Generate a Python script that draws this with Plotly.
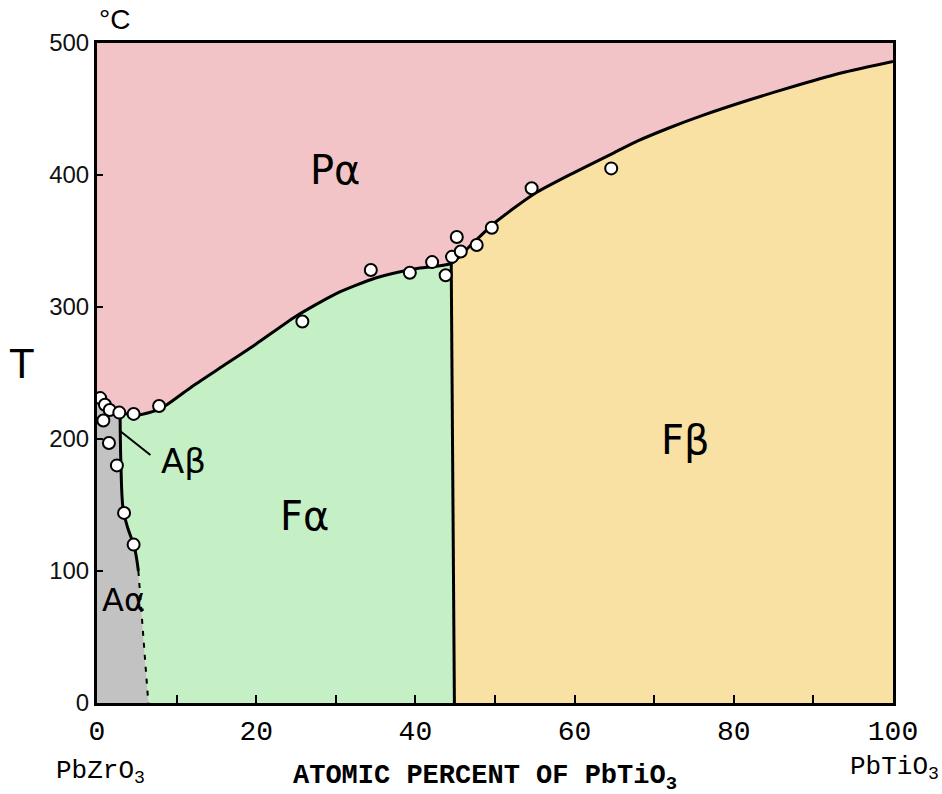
import plotly.graph_objects as go

# ---- data (x: atomic % PbTiO3, T in °C) ----
# Curie boundary (paraelectric Pα above)
curie_x = [0, 1, 2, 3, 5, 8, 12, 16, 20, 25, 30, 35, 40, 44.5, 47, 50, 55, 60, 65, 68, 72, 76, 82, 88, 94, 100]
curie_t = [234, 228, 223, 220, 218, 223, 240, 256, 272, 293, 310, 322, 329, 333, 347, 364, 386, 402, 417, 426, 436, 445, 457, 468, 478, 486]

# Morphotropic boundary Fα / Fβ
mpb_x = [44.5, 44.9]
mpb_t = [333, 0]

# Antiferroelectric / ferroelectric boundary: solid part, dashed part
afe_x = [2.9, 3.0, 3.3, 3.9, 4.7, 5.2]
afe_t = [220, 182, 146, 132, 118, 100]
afe_dash_x = [5.2, 5.6, 6.0, 6.45]
afe_dash_t = [100, 68, 34, 0]

# Measured points
pts_x = [0.4, 1.0, 1.6, 2.8, 4.6, 7.8, 0.8, 1.5, 2.5, 3.4, 4.6, 25.8, 34.4, 39.3, 42.1,
         43.8, 44.6, 45.2, 45.7, 47.7, 49.6, 54.6, 64.6]
pts_t = [231, 226, 222, 220, 219, 225, 214, 197, 180, 144, 120, 289, 328, 326, 334,
         324, 338, 353, 342, 347, 360, 390, 405]

# Phase labels
phase_labels = ["Pα", "Fβ", "Fα", "Aβ", "Aα"]
phase_x = [29.9, 73.9, 26.1, 10.9, 3.3]
phase_t = [404, 199, 142, 183, 78]

x_ticks = [0, 20, 40, 60, 80, 100]
y_ticks = [0, 100, 200, 300, 400, 500]

PINK = "#F3C4C7"
GREEN = "#C5F0C6"
ORANGE = "#F9E0A3"
GRAY = "#C2C2C2"

afe_all_x = afe_x + afe_dash_x[1:]
afe_all_t = afe_t + afe_dash_t[1:]

fig = go.Figure()

# Gray antiferroelectric region
gx = [0] + [x for x in curie_x if x < afe_x[0]] + afe_all_x + [0]
gt = [0] + [t for x, t in zip(curie_x, curie_t) if x < afe_x[0]] + afe_all_t + [0]
fig.add_trace(go.Scatter(x=gx, y=gt, fill="toself", fillcolor=GRAY, mode="none",
                         hoverinfo="skip", showlegend=False))

# Green Fα region
fx = [afe_x[0]] + [x for x in curie_x if afe_x[0] < x < mpb_x[0]] + mpb_x + afe_all_x[::-1]
ft = [afe_t[0]] + [t for x, t in zip(curie_x, curie_t) if afe_x[0] < x < mpb_x[0]] + mpb_t + afe_all_t[::-1]
fig.add_trace(go.Scatter(x=fx, y=ft, fill="toself", fillcolor=GREEN, mode="none",
                         hoverinfo="skip", showlegend=False))

# Orange Fβ region
ox = mpb_x[::-1] + [x for x in curie_x if x > mpb_x[0]] + [100]
ot = mpb_t[::-1] + [t for x, t in zip(curie_x, curie_t) if x > mpb_x[0]] + [0]
fig.add_trace(go.Scatter(x=ox, y=ot, fill="toself", fillcolor=ORANGE, mode="none",
                         hoverinfo="skip", showlegend=False))

# Boundaries
line_style = dict(color="black", width=3)
fig.add_trace(go.Scatter(x=curie_x, y=curie_t, mode="lines", line=line_style,
                         line_shape="spline", line_smoothing=0.6, showlegend=False))
fig.add_trace(go.Scatter(x=mpb_x, y=mpb_t, mode="lines", line=line_style, showlegend=False))
fig.add_trace(go.Scatter(x=afe_x, y=afe_t, mode="lines", line=line_style,
                         line_shape="spline", showlegend=False))
fig.add_trace(go.Scatter(x=afe_dash_x, y=afe_dash_t, mode="lines",
                         line=dict(color="black", width=2, dash="5px,7px"), showlegend=False))

# Data points
fig.add_trace(go.Scatter(x=pts_x, y=pts_t, mode="markers",
                         marker=dict(size=12, color="white", line=dict(color="black", width=2)),
                         showlegend=False))

# Phase labels
hand = "DejaVu Sans"
sizes = [40, 40, 40, 34, 32]
for lab, x, t, s in zip(phase_labels, phase_x, phase_t, sizes):
    fig.add_annotation(x=x, y=t, text=lab, showarrow=False,
                       font=dict(family=hand, size=s, color="black"))

# Pointer line for Aβ
fig.add_annotation(x=2.9, y=206, ax=6.9, ay=187, axref="x", ayref="y", xref="x", yref="y",
                   text="", showarrow=True, arrowhead=0, arrowwidth=2, arrowcolor="black")

mono = "Liberation Mono"
def paper_text(x, y, text, font):
    fig.add_annotation(xref="paper", yref="paper", x=x, y=y, text=text, showarrow=False,
                       xanchor="center", yanchor="middle", font=font)

paper_text(0.004, -0.105, "PbZrO<sub>3</sub>", dict(family=mono, size=26, color="black"))
paper_text(0.487, -0.114, "<b>ATOMIC PERCENT OF PbTiO<sub>3</sub></b>",
           dict(family=mono, size=27, color="black"))
paper_text(1.002, -0.098, "PbTiO<sub>3</sub>", dict(family=mono, size=26, color="black"))
paper_text(-0.094, 0.515, "T", dict(family="Liberation Sans", size=42, color="black"))
paper_text(0.022, 1.036, "°C", dict(family="Liberation Sans", size=28, color="black"))

fig.update_layout(
    width=942, height=794, autosize=False,
    margin=dict(l=97, r=49, t=43, b=91),
    paper_bgcolor="white", plot_bgcolor=PINK,
    showlegend=False,
)
fig.update_xaxes(range=[0, 100], tickvals=x_ticks, ticktext=[str(v) for v in x_ticks],
                 ticks="inside", ticklen=8, tickwidth=2, tickcolor="black",
                 minor=dict(dtick=10, ticks="inside", ticklen=8, tickwidth=2, tickcolor="black"),
                 showline=True, linewidth=3, linecolor="black", mirror=True,
                 showgrid=False, zeroline=False,
                 tickfont=dict(family=mono, size=28, color="black"))
fig.update_yaxes(range=[0, 500], tickvals=y_ticks, ticktext=[str(v) for v in y_ticks],
                 ticks="inside", ticklen=6, tickwidth=2, tickcolor="black",
                 showline=True, linewidth=3, linecolor="black", mirror=True,
                 showgrid=False, zeroline=False,
                 tickfont=dict(family="Liberation Sans", size=24, color="#111"))

fig.write_html("out.html")
